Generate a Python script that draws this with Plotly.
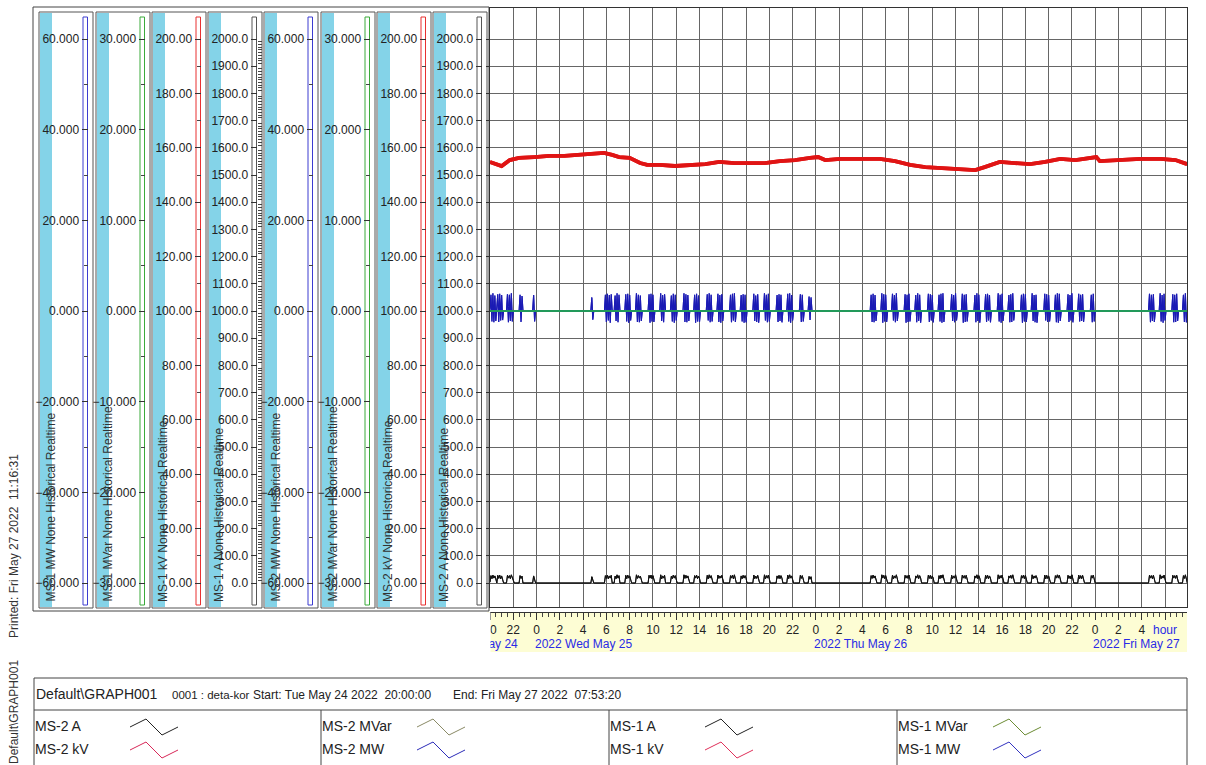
import pandas as pd
import plotly.graph_objects as go

W, H = 1206, 765
START = pd.Timestamp("2022-05-24 20:00:00")
END = pd.Timestamp("2022-05-27 07:53:20")

# Bus voltage, hours after START
kv_hours = [0.0, 0.5, 1.0, 1.7, 2.5, 3.8, 5.1, 6.4, 7.7, 9.0, 9.8, 10.5, 11.1, 12.0,
            12.9, 13.5, 14.6, 15.9, 17.2, 18.5, 19.7, 21.0, 22.3, 23.6, 24.9, 26.2,
            27.5, 28.2, 28.8, 30.1, 31.8, 33.5, 34.8, 36.1, 37.4, 39.1, 40.4, 41.7,
            42.5, 43.8, 45.1, 46.4, 47.7, 49.0, 50.3, 51.6, 52.1, 52.4, 54.2, 55.9,
            57.6, 58.9, 59.9]
kv_values = [154.8, 154.0, 153.3, 155.5, 156.3, 156.6, 157.0, 157.0, 157.4, 157.7,
             158.1, 157.4, 156.6, 156.3, 154.4, 153.7, 153.7, 153.3, 153.7, 154.0,
             154.8, 154.4, 154.4, 154.4, 155.1, 155.5, 156.3, 156.6, 155.5, 155.9,
             155.9, 155.9, 155.1, 153.7, 152.9, 152.6, 152.2, 151.8, 152.9, 154.8,
             154.4, 154.0, 154.8, 155.9, 155.5, 156.3, 156.6, 155.1, 155.5, 155.9,
             155.9, 155.5, 154.0]

# Reactive power, hours after START
mvar_hours = [0.0, 12.0, 24.0, 36.0, 48.0, 59.9]
mvar_values = [0.0, 0.0, 0.0, 0.0, 0.0, 0.0]

# Active power, 5-minute samples, one row per hour after START
mw_rows = [
    [0.3, 3.6, -2.3, 3.9, -2.5, 3.4, -2.2, 0.0, 3.7, -2.4, 3.8, -2.1],
    [3.5, -2.0, 0.0, 0.0, 0.0, 0.0, 3.7, -2.5, 3.6, -2.2, 3.9, -2.3],
    [0.0, 0.0, 0.0, 0.0, 0.0, 0.0, 0.0, 3.6, -2.4, 3.3, 0.0, 0.0],
    [0.0, 0.0, 0.0, 0.0, 0.0, 0.0, 0.0, 0.0, 0.0, 3.5, -2.3, 0.0],
    [0.0, 0.0, 0.0, 0.0, 0.0, 0.0, 0.0, 0.0, 0.0, 0.0, 0.0, 0.0],
    [0.0, 0.0, 0.0, 0.0, 0.0, 0.0, 0.0, 0.0, 0.0, 0.0, 0.0, 0.0],
    [0.0, 0.0, 0.0, 0.0, 0.0, 0.0, 0.0, 0.0, 0.0, 0.0, 0.0, 0.0],
    [0.0, 0.0, 0.0, 0.0, 0.0, 0.0, 0.0, 0.0, 0.0, 0.0, 0.0, 0.0],
    [0.0, 0.0, 0.0, 0.0, 0.0, 0.0, 0.0, 0.0, 0.0, 3.0, -1.9, 0.0],
    [0.0, 0.0, 0.0, 0.0, 0.0, 0.0, 0.0, 0.0, 0.0, 0.0, 0.0, 3.6],
    [-2.4, 3.8, -2.1, 3.5, -2.6, 3.7, 0.0, 0.0, 0.0, 3.4, -2.2, 3.9],
    [-2.5, 3.6, 0.0, 0.0, 0.0, 0.0, 0.0, 0.0, 3.7, -2.3, 3.8, -2.6],
    [3.5, -2.1, 0.0, 0.0, 0.0, 0.0, 0.0, 3.9, -2.4, 3.6, -2.5, 3.4],
    [-2.2, 0.0, 0.0, 0.0, 0.0, 0.0, 0.0, 0.0, 3.7, -2.6, 3.8, -2.3],
    [3.6, -2.4, 0.0, 0.0, 0.0, 0.0, 0.0, 0.0, 3.9, -2.2, 3.5, -2.5],
    [3.7, 0.0, 0.0, 0.0, 0.0, 0.0, 0.0, 3.4, -2.3, 3.8, -2.6, 3.6],
    [-2.1, 0.0, 0.0, 0.0, 0.0, 0.0, 0.0, 0.0, 3.9, -2.4, 3.7, -2.5],
    [3.5, -2.2, 0.0, 0.0, 0.0, 0.0, 0.0, 3.6, -2.6, 3.8, -2.3, 3.4],
    [-2.4, 0.0, 0.0, 0.0, 0.0, 0.0, 0.0, 0.0, 3.7, -2.1, 3.9, -2.5],
    [3.6, -2.3, 0.0, 0.0, 0.0, 0.0, 0.0, 3.8, -2.4, 3.5, -2.6, 3.7],
    [-2.2, 0.0, 0.0, 0.0, 0.0, 0.0, 0.0, 0.0, 3.6, -2.5, 3.8, -2.1],
    [3.9, -2.4, 0.0, 0.0, 0.0, 0.0, 0.0, 3.5, -2.3, 3.7, -2.6, 3.6],
    [-2.5, 0.0, 0.0, 0.0, 0.0, 0.0, 0.0, 0.0, 3.8, -2.2, 3.4, -2.4],
    [3.7, -2.6, 0.0, 0.0, 0.0, 0.0, 0.0, 3.9, -2.1, 3.6, -2.5, 3.8],
    [-2.3, 0.0, 0.0, 0.0, 0.0, 0.0, 0.0, 0.0, 3.5, -2.4, 3.7, -2.2],
    [3.6, -2.5, 0.0, 0.0, 0.0, 0.0, 0.0, 3.8, -2.3, 3.9, -2.6, 3.5],
    [-2.1, 0.0, 0.0, 0.0, 0.0, 0.0, 0.0, 0.0, 3.7, -2.4, 3.6, -2.3],
    [0.0, 0.0, 0.0, 0.0, 0.0, 3.2, -2.0, 3.0, 0.0, 0.0, 0.0, 0.0],
    [0.0, 0.0, 0.0, 0.0, 0.0, 0.0, 0.0, 0.0, 0.0, 0.0, 0.0, 0.0],
    [0.0, 0.0, 0.0, 0.0, 0.0, 0.0, 0.0, 0.0, 0.0, 0.0, 0.0, 0.0],
    [0.0, 0.0, 0.0, 0.0, 0.0, 0.0, 0.0, 0.0, 0.0, 0.0, 0.0, 0.0],
    [0.0, 0.0, 0.0, 0.0, 0.0, 0.0, 0.0, 0.0, 0.0, 0.0, 0.0, 0.0],
    [0.0, 0.0, 0.0, 0.0, 0.0, 0.0, 0.0, 0.0, 0.0, 3.6, -2.4, 3.8],
    [-2.5, 3.5, -2.2, 0.0, 0.0, 0.0, 0.0, 0.0, 3.9, -2.6, 3.7, -2.3],
    [3.6, -2.4, 0.0, 0.0, 0.0, 0.0, 0.0, 3.8, -2.1, 3.5, -2.5, 3.9],
    [-2.2, 0.0, 0.0, 0.0, 0.0, 0.0, 0.0, 0.0, 3.7, -2.6, 3.6, -2.4],
    [3.8, -2.3, 0.0, 0.0, 0.0, 0.0, 0.0, 3.5, -2.5, 3.9, -2.2, 3.6],
    [-2.6, 0.0, 0.0, 0.0, 0.0, 0.0, 0.0, 0.0, 3.8, -2.4, 3.7, -2.1],
    [3.5, -2.5, 0.0, 0.0, 0.0, 0.0, 0.0, 3.6, -2.3, 3.8, -2.6, 3.9],
    [-2.4, 0.0, 0.0, 0.0, 0.0, 0.0, 0.0, 0.0, 3.7, -2.2, 3.5, -2.5],
    [3.9, -2.1, 0.0, 0.0, 0.0, 0.0, 0.0, 3.8, -2.6, 3.6, -2.4, 3.7],
    [-2.3, 0.0, 0.0, 0.0, 0.0, 0.0, 0.0, 0.0, 3.5, -2.5, 3.9, -2.2],
    [3.6, -2.6, 0.0, 0.0, 0.0, 0.0, 0.0, 3.7, -2.4, 3.8, -2.1, 3.5],
    [-2.5, 0.0, 0.0, 0.0, 0.0, 0.0, 0.0, 0.0, 3.9, -2.3, 3.6, -2.6],
    [3.8, -2.2, 0.0, 0.0, 0.0, 0.0, 0.0, 3.5, -2.5, 3.7, -2.4, 3.9],
    [-2.1, 0.0, 0.0, 0.0, 0.0, 0.0, 0.0, 0.0, 3.6, -2.6, 3.8, -2.3],
    [3.7, -2.4, 0.0, 0.0, 0.0, 0.0, 0.0, 3.9, -2.2, 3.5, -2.5, 3.6],
    [-2.6, 0.0, 0.0, 0.0, 0.0, 0.0, 0.0, 0.0, 3.8, -2.1, 3.7, -2.4],
    [3.5, -2.3, 0.0, 0.0, 0.0, 0.0, 0.0, 3.6, -2.5, 3.9, -2.6, 3.8],
    [-2.2, 0.0, 0.0, 0.0, 0.0, 0.0, 0.0, 0.0, 3.7, -2.4, 3.5, -2.1],
    [3.9, -2.5, 0.0, 0.0, 0.0, 0.0, 0.0, 3.8, -2.3, 3.6, -2.2, 3.7],
    [-2.4, 0.0, 0.0, 0.0, 0.0, 0.0, 0.0, 0.0, 3.6, -2.5, 3.8, -2.3],
    [0.0, 0.0, 0.0, 0.0, 0.0, 0.0, 0.0, 0.0, 0.0, 0.0, 0.0, 0.0],
    [0.0, 0.0, 0.0, 0.0, 0.0, 0.0, 0.0, 0.0, 0.0, 0.0, 0.0, 0.0],
    [0.0, 0.0, 0.0, 0.0, 0.0, 0.0, 0.0, 0.0, 0.0, 0.0, 0.0, 0.0],
    [0.0, 0.0, 0.0, 0.0, 0.0, 0.0, 0.0, 0.0, 0.0, 0.0, 0.0, 0.0],
    [0.0, 0.0, 0.0, 0.0, 0.0, 0.0, 0.0, 0.0, 3.8, -2.5, 3.6, -2.2],
    [3.7, -2.4, 0.0, 0.0, 0.0, 0.0, 0.0, 3.9, -2.3, 3.5, -2.6, 3.8],
    [-2.1, 0.0, 0.0, 0.0, 0.0, 0.0, 0.0, 0.0, 3.7, -2.5, 3.6, -2.4],
    [3.8, -2.2, 0.0, 0.0, 0.0, 0.0, 0.0, 3.6, -2.4, 3.9, -2.5, 0.0],
]

# Current, same 5-minute sampling as mw_rows
amp_rows = [
    [3, 27, 16, 29, 18, 26, 15, 0, 28, 17, 29, 15],
    [26, 14, 0, 0, 0, 0, 28, 18, 27, 16, 30, 17],
    [14, 0, 0, 0, 0, 0, 0, 27, 17, 25, 0, 0],
    [0, 0, 0, 0, 0, 0, 0, 0, 0, 26, 16, 0],
    [0, 0, 0, 0, 0, 0, 0, 0, 0, 0, 0, 0],
    [0, 0, 0, 0, 0, 0, 0, 0, 0, 0, 0, 0],
    [0, 0, 0, 0, 0, 0, 0, 0, 0, 0, 0, 0],
    [0, 0, 0, 0, 0, 0, 0, 0, 0, 0, 0, 0],
    [0, 0, 0, 0, 0, 0, 0, 0, 0, 23, 13, 0],
    [0, 0, 0, 0, 0, 0, 0, 0, 0, 0, 0, 27],
    [17, 29, 15, 26, 18, 28, 0, 0, 0, 25, 16, 30],
    [18, 27, 0, 0, 0, 0, 0, 0, 28, 16, 29, 18],
    [26, 15, 0, 0, 0, 0, 0, 30, 17, 27, 18, 25],
    [16, 0, 0, 0, 0, 0, 0, 0, 28, 18, 29, 16],
    [27, 17, 0, 0, 0, 0, 0, 0, 30, 15, 26, 18],
    [28, 0, 0, 0, 0, 0, 0, 25, 16, 29, 18, 27],
    [15, 0, 0, 0, 0, 0, 0, 0, 30, 17, 28, 18],
    [26, 16, 0, 0, 0, 0, 0, 27, 18, 29, 16, 25],
    [17, 0, 0, 0, 0, 0, 0, 0, 28, 15, 30, 18],
    [27, 16, 0, 0, 0, 0, 0, 29, 17, 26, 18, 28],
    [16, 0, 0, 0, 0, 0, 0, 0, 27, 18, 29, 15],
    [30, 17, 0, 0, 0, 0, 0, 26, 16, 28, 18, 27],
    [18, 0, 0, 0, 0, 0, 0, 0, 29, 16, 25, 17],
    [28, 18, 0, 0, 0, 0, 0, 30, 15, 27, 18, 29],
    [16, 0, 0, 0, 0, 0, 0, 0, 26, 17, 28, 16],
    [27, 18, 0, 0, 0, 0, 0, 29, 16, 30, 18, 26],
    [15, 0, 0, 0, 0, 0, 0, 0, 28, 17, 27, 16],
    [0, 0, 0, 0, 0, 24, 14, 23, 0, 0, 0, 0],
    [0, 0, 0, 0, 0, 0, 0, 0, 0, 0, 0, 0],
    [0, 0, 0, 0, 0, 0, 0, 0, 0, 0, 0, 0],
    [0, 0, 0, 0, 0, 0, 0, 0, 0, 0, 0, 0],
    [0, 0, 0, 0, 0, 0, 0, 0, 0, 0, 0, 0],
    [0, 0, 0, 0, 0, 0, 0, 0, 0, 27, 17, 29],
    [18, 26, 16, 0, 0, 0, 0, 0, 30, 18, 28, 16],
    [27, 17, 0, 0, 0, 0, 0, 29, 15, 26, 18, 30],
    [16, 0, 0, 0, 0, 0, 0, 0, 28, 18, 27, 17],
    [29, 16, 0, 0, 0, 0, 0, 26, 18, 30, 16, 27],
    [18, 0, 0, 0, 0, 0, 0, 0, 29, 17, 28, 15],
    [26, 18, 0, 0, 0, 0, 0, 27, 16, 29, 18, 30],
    [17, 0, 0, 0, 0, 0, 0, 0, 28, 16, 26, 18],
    [30, 15, 0, 0, 0, 0, 0, 29, 18, 27, 17, 28],
    [16, 0, 0, 0, 0, 0, 0, 0, 26, 18, 30, 16],
    [27, 18, 0, 0, 0, 0, 0, 28, 17, 29, 15, 26],
    [18, 0, 0, 0, 0, 0, 0, 0, 30, 16, 27, 18],
    [29, 16, 0, 0, 0, 0, 0, 26, 18, 28, 17, 30],
    [15, 0, 0, 0, 0, 0, 0, 0, 27, 18, 29, 16],
    [28, 17, 0, 0, 0, 0, 0, 30, 16, 26, 18, 27],
    [18, 0, 0, 0, 0, 0, 0, 0, 29, 15, 28, 17],
    [26, 16, 0, 0, 0, 0, 0, 27, 18, 30, 18, 29],
    [16, 0, 0, 0, 0, 0, 0, 0, 28, 17, 26, 15],
    [30, 18, 0, 0, 0, 0, 0, 29, 16, 27, 16, 28],
    [17, 0, 0, 0, 0, 0, 0, 0, 27, 18, 29, 16],
    [0, 0, 0, 0, 0, 0, 0, 0, 0, 0, 0, 0],
    [0, 0, 0, 0, 0, 0, 0, 0, 0, 0, 0, 0],
    [0, 0, 0, 0, 0, 0, 0, 0, 0, 0, 0, 0],
    [0, 0, 0, 0, 0, 0, 0, 0, 0, 0, 0, 0],
    [0, 0, 0, 0, 0, 0, 0, 0, 29, 18, 27, 16],
    [28, 17, 0, 0, 0, 0, 0, 30, 16, 26, 18, 29],
    [15, 0, 0, 0, 0, 0, 0, 0, 28, 18, 27, 17],
    [29, 16, 0, 0, 0, 0, 0, 27, 17, 30, 18, 0],
]

# Pen colours
C_MW = "#1a1ab4"
C_MVAR = "#22995a"
C_KV = "#e01414"
C_A = "#111111"

# Scale panels: name, grid bottom/top value, label step, minor step, format, bar colour, minor side
panels = [
    ("MS-1 MW", -60, 60, 20, 10, ".3f", "#3c3cd0", "outside"),
    ("MS-1 MVar", -30, 30, 10, 5, ".3f", "#3aaa3a", "outside"),
    ("MS-1 kV", 0, 200, 20, 10, ".2f", "#e83030", "outside"),
    ("MS-1 A", 0, 2000, 100, 10, ".1f", "#555555", "inside"),
    ("MS-2 MW", -60, 60, 20, 10, ".3f", "#3c3cd0", "outside"),
    ("MS-2 MVar", -30, 30, 10, 5, ".3f", "#3aaa3a", "outside"),
    ("MS-2 kV", 0, 200, 20, 10, ".2f", "#e83030", "outside"),
    ("MS-2 A", 0, 2000, 100, None, ".1f", "#555555", "outside"),
]
bar_x = [85, 142, 198, 254, 310, 367, 423, 479]

# Page geometry (pixels)
PLOT_L, PLOT_R, PLOT_T, PLOT_B = 490, 1187, 8, 607
GRID_TOP, GRID_BOT = 39, 583
FONT = "Liberation Sans, Arial, sans-serif"
DOM_Y = [1 - PLOT_B / H, 1 - PLOT_T / H]
SAMPLE_MIN = 5


def px(x):
    return x / W


def py(y):
    return 1 - y / H


def axis_range(lo, hi):
    s = (GRID_BOT - GRID_TOP) / (hi - lo)
    return [lo - (PLOT_B - GRID_BOT) / s, hi + (GRID_TOP - PLOT_T) / s]


def hours_to_time(hours):
    return [START + pd.Timedelta(hours=h) for h in hours]


def rows_to_series(rows):
    t, v = [], []
    for h, row in enumerate(rows):
        for k, val in enumerate(row):
            t.append(START + pd.Timedelta(minutes=60 * h + SAMPLE_MIN * k))
            v.append(val)
    return t, v


kv_t = hours_to_time(kv_hours)
mvar_t = hours_to_time(mvar_hours)
mw_t, mw_v = rows_to_series(mw_rows)
a_t, a_v = rows_to_series(amp_rows)

fig = go.Figure()

# base grid subplot (carries no visible data)
fig.add_trace(go.Scatter(x=[START, END], y=[None, None], mode="lines",
                         xaxis="x", yaxis="y", showlegend=False, hoverinfo="skip"))

series = [
    # (x data, y data, colour, width, axis index within station)
    (a_t, a_v, C_A, 1.0, 3),
    (mw_t, mw_v, C_MW, 1.1, 0),
    (mvar_t, mvar_values, C_MVAR, 2.0, 1),
    (kv_t, kv_values, C_KV, 3.8, 2),
]
for station in range(2):
    for xs, ys, col, w, idx in series:
        ax = station * 4 + idx + 2
        fig.add_trace(go.Scatter(
            x=xs, y=ys, mode="lines",
            line=dict(color=col, width=w),
            xaxis="x" if station == 0 else "x2",
            yaxis=f"y{ax}", showlegend=False, hoverinfo="skip",
        ))

# Time axis ticks every 2 hours
tick_times = [START + pd.Timedelta(hours=h) for h in range(0, 59, 2)]
tick_text = [str(t.hour) for t in tick_times]
tick_text[-1] = "<span style='color:#2a2ae6'>hour</span>"

layout = dict(
    width=W, height=H,
    margin=dict(l=0, r=0, t=0, b=0),
    paper_bgcolor="white", plot_bgcolor="white",
    font=dict(family=FONT, size=12, color="#222"),
    showlegend=False,
    xaxis=dict(
        domain=[px(PLOT_L), px(PLOT_R)], type="date",
        range=[START, END], tick0=START, dtick=7200000,
        showgrid=True, gridcolor="#666666", gridwidth=1,
        showticklabels=False, ticks="", zeroline=False,
        showline=True, mirror=True, linecolor="#333", linewidth=1,
        anchor="y", automargin=False, fixedrange=True,
    ),
    xaxis2=dict(
        overlaying="x", anchor="free", position=py(612), side="bottom",
        domain=[px(PLOT_L), px(PLOT_R)],
        type="date", range=[START, END],
        tickmode="array", tickvals=tick_times, ticktext=tick_text,
        ticks="outside", ticklen=7, tickcolor="#333",
        tickfont=dict(size=12, color="#222", family=FONT),
        minor=dict(ticks="outside", ticklen=4, tickcolor="#444",
                   tick0=START, dtick=1800000, showgrid=False),
        showline=True, linecolor="#333", linewidth=1,
        showgrid=False, zeroline=False, automargin=False, fixedrange=True,
    ),
    yaxis=dict(
        domain=DOM_Y, range=axis_range(0, 2000),
        tickmode="array", tickvals=list(range(0, 2001, 100)),
        showticklabels=False, ticks="outside", ticklen=3, tickcolor="#333",
        showgrid=True, gridcolor="#666666", gridwidth=1, zeroline=False,
        showline=True, mirror=True, linecolor="#333", linewidth=1,
        anchor="x", automargin=False, fixedrange=True,
    ),
)

for i, (name, lo, hi, step, mstep, fmt, col, mside) in enumerate(panels):
    ax = dict(
        overlaying="y", anchor="free", position=px(bar_x[i] + 2.5), side="left",
        domain=DOM_Y, range=axis_range(lo, hi),
        tickmode="array", tickvals=list(range(lo, hi + 1, step)),
        tickformat=fmt, ticks="outside", ticklen=6, tickcolor="#333",
        tickfont=dict(size=12, color="#222", family=FONT),
        showgrid=False, zeroline=False, showline=False,
        automargin=False, fixedrange=True,
    )
    if mstep:
        ax["minor"] = dict(
            tickmode="array",
            tickvals=[v for v in range(lo, hi + 1, mstep) if (v - lo) % step],
            ticks=mside, ticklen=4, tickcolor="#444", showgrid=False,
        )
    layout[f"yaxis{i + 2}"] = ax

shapes = []
annotations = []


def rect(x0, y0, x1, y1, line=None, fill=None, width=1):
    shapes.append(dict(
        type="rect", xref="paper", yref="paper", layer="below",
        x0=px(x0), x1=px(x1), y0=py(y1), y1=py(y0),
        line=dict(color=line or "rgba(0,0,0,0)", width=width if line else 0),
        fillcolor=fill or "rgba(0,0,0,0)",
    ))


def hline(x0, x1, y, color="#444"):
    shapes.append(dict(type="line", xref="paper", yref="paper",
                       x0=px(x0), x1=px(x1), y0=py(y), y1=py(y),
                       line=dict(color=color, width=1)))


def vline(x, y0, y1, color="#444"):
    shapes.append(dict(type="line", xref="paper", yref="paper",
                       x0=px(x), x1=px(x), y0=py(y0), y1=py(y1),
                       line=dict(color=color, width=1)))


def text(x, y, s, size=12, color="#222", xanchor="left", angle=0, yanchor="middle",
         xref="paper", xshift=None):
    if xshift is None:
        xshift = -3 if xanchor == "left" else 0
    annotations.append(dict(
        x=x if xref != "paper" else px(x), y=py(y), xref=xref, yref="paper",
        text=s, showarrow=False, xanchor=xanchor, yanchor=yanchor,
        textangle=angle, xshift=xshift,
        font=dict(family=FONT, size=size, color=color),
    ))


# Scale panel frame
rect(33, 7, 489, 611, line="#444")
for i, (name, lo, hi, step, mstep, fmt, col, mside) in enumerate(panels):
    bx = bar_x[i]
    left, right = bx - 46, bx + 8
    rect(left, 12, right, 608, line="#555")
    rect(left + 1, 13, left + 13, 607, fill="#84d3e8")
    rect(bx - 2, 17, bx + 2.5, 605, line=col, fill="white")
    text(left + 11, 604, f"{name} None Historical Realtime", size=12,
         color="#333", xanchor="center", yanchor="bottom", angle=-90)

# Time band under the chart
rect(487, 612, PLOT_R, 652, fill="#fdfdd4")

# Date captions at midnight
text(520, 644, "2022 Tue May 24", color="#2a2ae6", xanchor="right")
for d in ["2022-05-25", "2022-05-26", "2022-05-27"]:
    ts = pd.Timestamp(d)
    text(ts, 644, ts.strftime("%Y %a %b %-d"), color="#2a2ae6",
         xanchor="left", xref="x", xshift=-4)
# blank everything left of the band edge
annotations.append(dict(
    x=px(490.5), y=py(636), xref="paper", yref="paper", text=" ",
    showarrow=False, xanchor="right", yanchor="middle",
    width=114, height=44, bgcolor="white",
))

# Printed stamp along the left edge
text(14, 640, "Printed: Fri May 27 2022  11:16:31", size=12, color="#333",
     xanchor="center", yanchor="bottom", angle=-90)
text(14, 766, "Default\\GRAPH001", size=12, color="#333",
     xanchor="center", yanchor="bottom", angle=-90)

# Legend table
LEG_T, LEG_HDR, LEG_B = 678, 710, 780
rect(34, LEG_T, PLOT_R, LEG_B, line="#444")
hline(34, PLOT_R, LEG_HDR)
col_left = [34, 321, 609, 897]
for cx in col_left[1:]:
    vline(cx, LEG_HDR, LEG_B)

text(37, 694, "Default\\GRAPH001", size=14)
text(173, 695, "0001 : deta-kor", size=11.5)
text(254, 695, "Start: Tue May 24 2022  20:00:00", size=12)
text(454, 695, "End: Fri May 27 2022  07:53:20", size=12)

legend_entries = [
    [("MS-2 A", "#222222"), ("MS-2 kV", "#d82858")],
    [("MS-2 MVar", "#8a8a66"), ("MS-2 MW", "#2c2cb8")],
    [("MS-1 A", "#222222"), ("MS-1 kV", "#e0305a")],
    [("MS-1 MVar", "#6c8c34"), ("MS-1 MW", "#3232c0")],
]
for c, entries in enumerate(legend_entries):
    x0 = col_left[c]
    for r, (label, col) in enumerate(entries):
        yc = 726 + 23 * r
        text(x0 + 2, yc, label, size=14)
        ix = x0 + 96
        pts = [(ix, yc + 1), (ix + 16, yc - 7), (ix + 32, yc + 9), (ix + 48, yc + 1)]
        path = "M " + " L ".join(f"{px(a)},{py(b)}" for a, b in pts)
        shapes.append(dict(type="path", xref="paper", yref="paper", path=path,
                           line=dict(color=col, width=1)))

layout["shapes"] = shapes
layout["annotations"] = annotations
fig.update_layout(**layout)

fig.write_html("out.html")
